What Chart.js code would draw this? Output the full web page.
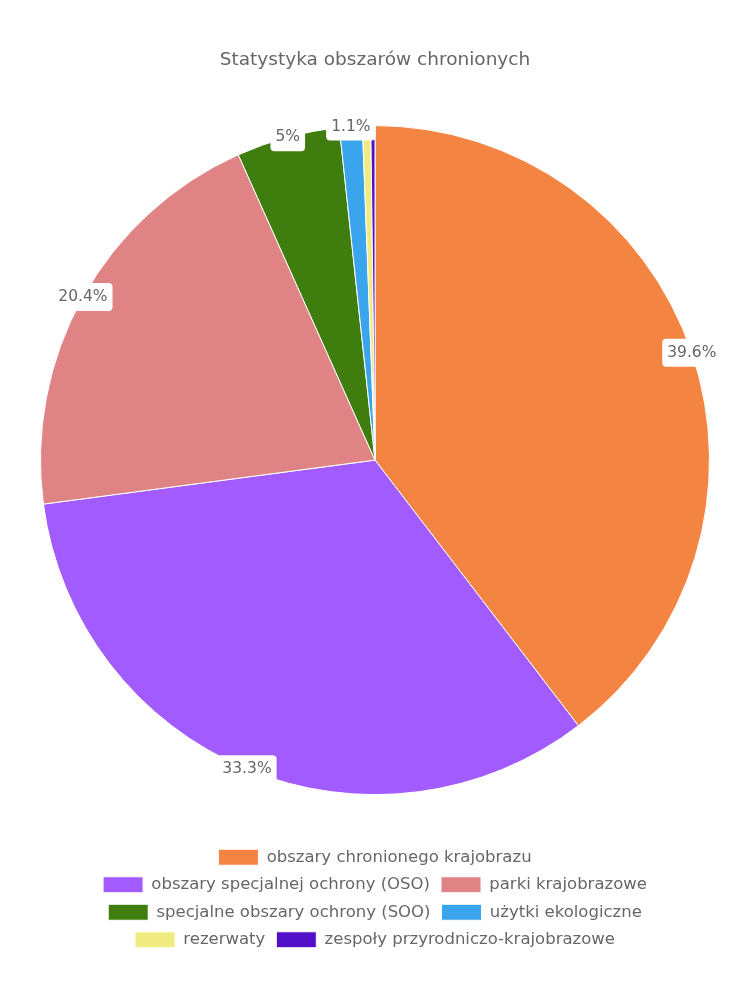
<!DOCTYPE html>
<html>
<head>
<meta charset="utf-8">
<script src="https://cdn.jsdelivr.net/npm/chart.js@4"></script>
<style>
  html, body { margin: 0; padding: 0; background: #fff; }
  #wrap { width: 750px; height: 1000px; }
</style>
</head>
<body>
<div id="wrap"><canvas id="chart"></canvas></div>
<script>
const labels = [
    'obszary chronionego krajobrazu',
    'obszary specjalnej ochrony (OSO)',
    'parki krajobrazowe',
    'specjalne obszary ochrony (SOO)',
    'użytki ekologiczne',
    'rezerwaty',
    'zespoły przyrodniczo-krajobrazowe'
];
const shares = [39.6, 33.3, 20.4, 5.0, 1.1, 0.4, 0.2];
const colors = ['#f48442', '#a25bfe', '#e08384', '#3e7d0e', '#3aa5ec', '#f0eb80', '#5110c8'];

const fontFamily = "'DejaVu Sans', sans-serif";

// draws the percentage tags on the outer edge of each slice
const edgeLabels = {
    id: 'edgeLabels',
    afterDatasetsDraw(chart) {
        const ctx = chart.ctx;
        const meta = chart.getDatasetMeta(0);
        ctx.save();
        ctx.font = '15.5px ' + fontFamily;
        ctx.textAlign = 'center';
        ctx.textBaseline = 'middle';
        meta.data.forEach((arc, i) => {
            const v = shares[i];
            if (v < 1) return;
            const mid = (arc.startAngle + arc.endAngle) / 2;
            const x = arc.x + Math.cos(mid) * arc.outerRadius;
            const y = arc.y + Math.sin(mid) * arc.outerRadius;
            const text = v + '%';
            const w = ctx.measureText(text).width + 10;
            const h = 28;
            ctx.fillStyle = '#ffffff';
            ctx.beginPath();
            ctx.roundRect(x - w / 2, y - h / 2, w, h, 4);
            ctx.fill();
            ctx.fillStyle = '#666666';
            ctx.fillText(text, x, y);
        });
        ctx.restore();
    }
};

new Chart(document.getElementById('chart'), {
    type: 'pie',
    data: {
        labels: labels,
        datasets: [{
            data: shares,
            backgroundColor: colors,
            borderColor: '#ffffff',
            borderWidth: 1
        }]
    },
    options: {
        responsive: true,
        maintainAspectRatio: false,
        animation: false,
        layout: {
            padding: { left: 40, right: 40, top: 20, bottom: 42 }
        },
        plugins: {
            title: {
                display: true,
                text: 'Statystyka obszarów chronionych',
                color: '#666666',
                font: { family: fontFamily, size: 18.5, weight: 'normal' },
                padding: { top: 29, bottom: 11 }
            },
            legend: {
                position: 'bottom',
                labels: {
                    color: '#666666',
                    font: { family: fontFamily, size: 16.5 },
                    boxWidth: 40,
                    boxHeight: 16,
                    padding: 11
                }
            },
            tooltip: { enabled: false }
        }
    },
    plugins: [edgeLabels]
});
</script>
</body>
</html>
